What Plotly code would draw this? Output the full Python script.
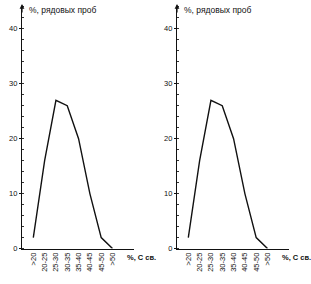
import plotly.graph_objects as go

categories = [">20", "20-25", "25-30", "30-35", "35-40", "40-45", "45-50", ">50"]
left_values = [2, 16, 27, 26, 20, 10, 2, 0]
right_values = [2, 16, 27, 26, 20, 10, 2, 0]
y_ticks = [0, 10, 20, 30, 40]
y_title = "%, рядовых проб"
x_title = "%, С св."

W, H = 311, 284
fig = go.Figure()

fam = "Liberation Sans, Arial, sans-serif"
tfont = dict(family=fam, size=7.5, color="#111")

panels = [
    (left_values, "x", "y", (22 / W, 134 / W)),
    (right_values, "x2", "y2", (177 / W, 289 / W)),
]
idx = list(range(len(categories)))
ydom = (31 / H, 277 / H)
for i, (vals, xa, ya, dom) in enumerate(panels):
    fig.add_trace(go.Scatter(x=idx, y=vals, mode="lines", xaxis=xa, yaxis=ya,
                             line=dict(color="#111", width=1.4), showlegend=False))
    sfx = "" if i == 0 else "2"
    fig.layout["xaxis" + sfx] = dict(
        domain=list(dom), range=[-1, 8.9], anchor="y" + sfx,
        tickmode="array", tickvals=idx, ticktext=categories, tickangle=-90,
        showgrid=False, zeroline=False, showline=True, linecolor="#111", linewidth=1.2,
        ticks="", tickfont=tfont, fixedrange=True)
    fig.layout["yaxis" + sfx] = dict(
        domain=list(ydom), range=[0, 44], anchor="x" + sfx,
        tickmode="array", tickvals=y_ticks,
        showgrid=False, zeroline=False, showline=True, linecolor="#111", linewidth=1.2,
        ticks="outside", ticklen=2, tickcolor="#111", tickfont=tfont,
        minor=dict(dtick=2, ticks="inside", ticklen=2, tickcolor="#333"),
        fixedrange=True)
    x0 = dom[0]
    fig.add_annotation(xref="paper", yref="paper", x=x0 + 5 / W, y=1 - 10 / H,
                       text=y_title, showarrow=False, xanchor="left", yanchor="middle",
                       font=dict(family=fam, size=8.5, color="#111"))
    fig.add_annotation(xref="paper", yref="paper", x=x0 + 103 / W, y=1 - 262 / H,
                       text="<b>" + x_title + "</b>", showarrow=False, xanchor="left",
                       yanchor="middle", font=dict(family=fam, size=7.5, color="#111"))
    # arrow head at top of y axis
    fig.add_annotation(xref="paper", yref="paper", x=x0, y=1 - 4 / H,
                       ax=0, ay=10, axref="pixel", ayref="pixel",
                       text="", showarrow=True, arrowhead=2, arrowsize=0.8,
                       arrowwidth=1.2, arrowcolor="#111")

fig.update_layout(width=W, height=H, margin=dict(l=0, r=0, t=0, b=0),
                  plot_bgcolor="white", paper_bgcolor="white")
fig.write_html("out.html")
